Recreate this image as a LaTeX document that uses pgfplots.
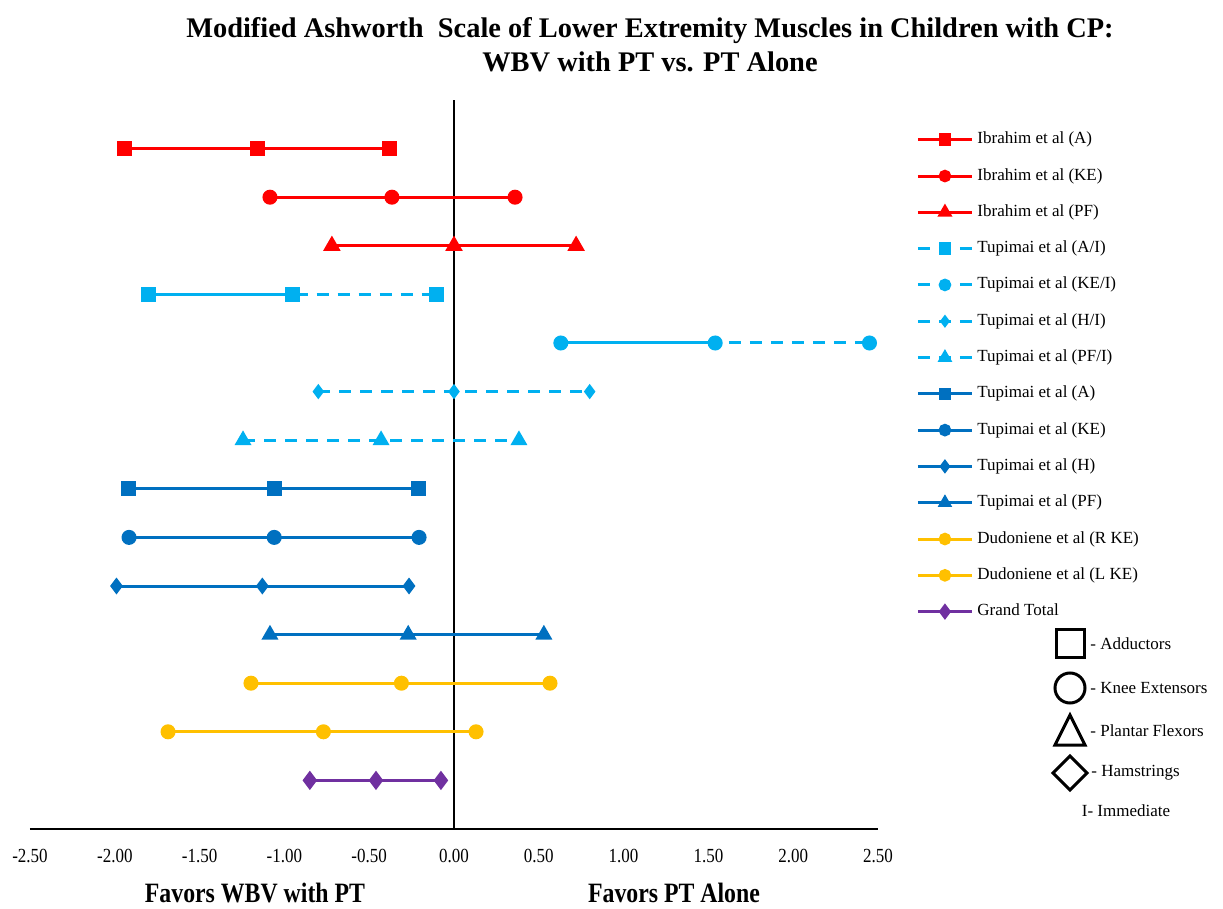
\documentclass[border=0pt]{standalone}
\usepackage{pgfplots}
\pgfplotsset{compat=1.18}
\usepackage{fontspec}
\setmainfont{Liberation Serif}
\newfontfamily\narrowfont[FakeStretch=0.85]{Liberation Serif}
\definecolor{cred}{HTML}{FF0000}
\definecolor{clblue}{HTML}{00B0F0}
\definecolor{cdblue}{HTML}{0070C0}
\definecolor{cgold}{HTML}{FFC000}
\definecolor{cpurp}{HTML}{7030A0}
\begin{document}
\begin{tikzpicture}
\useasboundingbox (0,0) rectangle (611.5pt,-454.5pt);
\node[align=center,font=\fontsize{14.2}{17}\selectfont\bfseries] at (325pt,-22.5pt)
 {Modified Ashworth\ \ Scale of Lower Extremity Muscles in Children with CP:\\WBV with PT vs. PT Alone};
\begin{axis}[
  at={(15pt,-414.5pt)}, anchor=south west,
  scale only axis, width=424pt, height=364.5pt,
  xmin=-2.5, xmax=2.5, ymin=0, ymax=15,
  axis x line*=bottom, axis y line=none,
  x axis line style={line width=1.4pt},
  ytick=\empty,
  xtick={-2.5,-2,-1.5,-1,-0.5,0,0.5,1,1.5,2,2.5},
  major tick length=0pt,
  xticklabel style={font=\narrowfont\fontsize{10}{11}\selectfont, yshift=-6.5pt},
  /pgf/number format/.cd, fixed, fixed zerofill, precision=2, assume math mode=true,
  /pgfplots/.cd,
  clip=false,
  every axis plot/.append style={line width=1.5pt},
  legend style={draw=none, fill=none, at={(1.0378,0.968)}, anchor=north west,
    font=\fontsize{8.5}{10}\selectfont, row sep=6.15pt,
    nodes={text height=6pt, text depth=2pt, inner sep=2pt}},
  legend cell align=left,
  legend image code/.code={\draw[#1,/tikz/every mark/.append style={scale=0.8},mark repeat=2,mark phase=2] plot coordinates {(0pt,0pt)(13.5pt,0pt)(27pt,0pt)};},
]
\addplot[black, line width=1pt, forget plot] coordinates {(0,0) (0,15)};
% Ibrahim
\addplot[cred, mark=square*, mark size=3pt] coordinates {(-1.94,14) (-1.156,14) (-0.383,14)};
\addlegendentry{Ibrahim et al (A)}
\addplot[cred, mark=*, mark size=3pt] coordinates {(-1.085,13) (-0.366,13) (0.36,13)};
\addlegendentry{Ibrahim et al (KE)}
\addplot[cred, mark=triangle*, mark size=3.6pt] coordinates {(-0.72,12) (0,12) (0.72,12)};
\addlegendentry{Ibrahim et al (PF)}
% Tupimai immediate
\addplot[clblue, dash pattern=on 6pt off 4.5pt, mark=square*, mark size=3pt, mark options={solid}] coordinates {(-1.80,11) (-0.955,11) (-0.106,11)};
\addlegendentry{Tupimai et al (A/I)}
\addplot[clblue, dash pattern=on 6pt off 4.5pt, mark=*, mark size=3pt, mark options={solid}] coordinates {(0.63,10) (1.54,10) (2.45,10)};
\addlegendentry{Tupimai et al (KE/I)}
\addplot[clblue, dash pattern=on 6pt off 4.5pt, mark=diamond*, mark size=2.6pt, mark options={solid}] coordinates {(-0.80,9) (0,9) (0.80,9)};
\addlegendentry{Tupimai et al (H/I)}
\addplot[clblue, dash pattern=on 6pt off 4.5pt, mark=triangle*, mark size=3.4pt, mark options={solid}] coordinates {(-1.244,8) (-0.43,8) (0.383,8)};
\addlegendentry{Tupimai et al (PF/I)}
% Tupimai
\addplot[cdblue, mark=square*, mark size=3pt] coordinates {(-1.92,7) (-1.06,7) (-0.21,7)};
\addlegendentry{Tupimai et al (A)}
\addplot[cdblue, mark=*, mark size=3pt] coordinates {(-1.916,6) (-1.06,6) (-0.206,6)};
\addlegendentry{Tupimai et al (KE)}
\addplot[cdblue, mark=diamond*, mark size=3pt] coordinates {(-1.99,5) (-1.13,5) (-0.265,5)};
\addlegendentry{Tupimai et al (H)}
\addplot[cdblue, mark=triangle*, mark size=3.4pt] coordinates {(-1.085,4) (-0.27,4) (0.53,4)};
\addlegendentry{Tupimai et al (PF)}
% Dudoniene
\addplot[cgold, mark=*, mark size=3pt] coordinates {(-1.197,3) (-0.31,3) (0.566,3)};
\addlegendentry{Dudoniene et al (R KE)}
\addplot[cgold, mark=*, mark size=3pt] coordinates {(-1.686,2) (-0.77,2) (0.13,2)};
\addlegendentry{Dudoniene et al (L KE)}
\addplot[cpurp, mark=diamond*, mark size=3.6pt] coordinates {(-0.85,1) (-0.46,1) (-0.077,1)};
\addlegendentry{Grand Total}
% solid left segments of Tupimai A/I and KE/I
\addplot[clblue, forget plot] coordinates {(-1.80,11) (-0.955,11)};
\addplot[clblue, forget plot] coordinates {(0.63,10) (1.54,10)};
\end{axis}
% shape key
\draw[line width=1.5pt] (528pt,-315pt) rectangle (542pt,-329pt);
\draw[line width=1.5pt] (535pt,-344pt) circle (7.5pt);
\draw[line width=1.5pt] (527.5pt,-372.5pt) -- (542.5pt,-372.5pt) -- (535pt,-357.5pt) -- cycle;
\draw[line width=1.5pt] (526.5pt,-386.5pt) -- (535pt,-378pt) -- (543.5pt,-386.5pt) -- (535pt,-395pt) -- cycle;
\begin{scope}[every node/.style={anchor=west, font=\fontsize{8.5}{10}\selectfont, inner sep=0pt}]
\node at (545pt,-322pt) {- Adductors};
\node at (545pt,-344pt) {- Knee Extensors};
\node at (545pt,-365.5pt) {- Plantar Flexors};
\node at (545.5pt,-386.5pt) {- Hamstrings};
\end{scope}
\node[font=\fontsize{8.5}{10}\selectfont] at (563pt,-405.5pt) {I- Immediate};
\node[font=\narrowfont\bfseries\fontsize{14}{16}\selectfont] at (127.5pt,-446.5pt) {Favors WBV with PT};
\node[font=\narrowfont\bfseries\fontsize{14}{16}\selectfont] at (337pt,-446.5pt) {Favors PT Alone};
\end{tikzpicture}
\end{document}
